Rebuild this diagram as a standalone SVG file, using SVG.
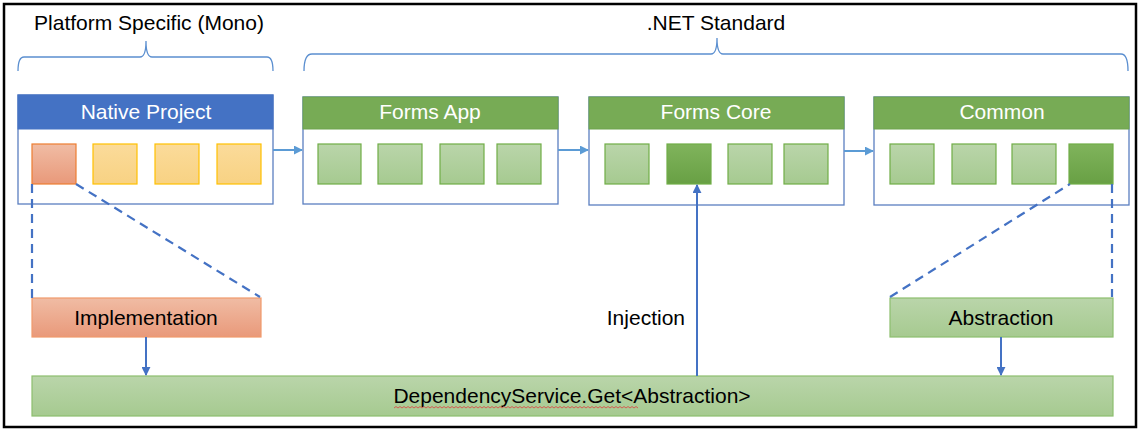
<svg xmlns="http://www.w3.org/2000/svg" width="1141" height="429" viewBox="0 0 1141 429">
<style>
text{font-family:"Liberation Sans","Open Sans",sans-serif;font-size:21px;fill:#000}
.hdr{fill:#fff;text-anchor:middle}
.ctr{text-anchor:middle}
.frame{fill:#fff;stroke:#5B7FC0;stroke-width:1.3}
.lg{fill:url(#gLight);stroke:#70AD47;stroke-width:1.2}
.dg{fill:url(#gDark);stroke:#70AD47;stroke-width:1.2}
.yl{fill:url(#gYellow);stroke:#FFC000;stroke-width:1.2}
.or{fill:url(#gOrange);stroke:#ED7D31;stroke-width:1.2}
.brace{fill:none;stroke:#5B8FD0;stroke-width:1.3}
.dash{fill:none;stroke:#4472C4;stroke-width:2.2;stroke-dasharray:9,6}
.conn{fill:none;stroke:#5B9BD5;stroke-width:2}
.conn2{fill:none;stroke:#4472C4;stroke-width:2}
</style>
<defs>
<linearGradient id="gLight" x1="0" y1="0" x2="0" y2="1"><stop offset="0" stop-color="#BAD5AA"/><stop offset="1" stop-color="#A6CA90"/></linearGradient>
<linearGradient id="gDark" x1="0" y1="0" x2="0" y2="1"><stop offset="0" stop-color="#80B45C"/><stop offset="1" stop-color="#68A044"/></linearGradient>
<linearGradient id="gYellow" x1="0" y1="0" x2="0" y2="1"><stop offset="0" stop-color="#FBDB9A"/><stop offset="1" stop-color="#F8D283"/></linearGradient>
<linearGradient id="gOrange" x1="0" y1="0" x2="0" y2="1"><stop offset="0" stop-color="#F0BCA4"/><stop offset="1" stop-color="#E9997A"/></linearGradient>
<marker id="ah" viewBox="0 0 10 10" refX="9" refY="5" markerWidth="4.5" markerHeight="4.5" orient="auto"><path d="M0,0L10,5L0,10z" fill="#5B9BD5"/></marker>
<marker id="ah2" viewBox="0 0 10 10" refX="9" refY="5" markerWidth="4.5" markerHeight="4.5" orient="auto"><path d="M0,0L10,5L0,10z" fill="#4472C4"/></marker>
</defs>
<rect x="0" y="0" width="1141" height="429" fill="#fff"/>
<rect x="4" y="4" width="1132" height="423" fill="none" stroke="#000" stroke-width="2.5"/>

<g id="label-platform">
<text x="149" y="30" class="ctr">Platform Specific (Mono)</text>
<path class="brace" d="M18,71 Q18,57 24,57 L140,57 Q146,57 146,41 Q146,57 152,57 L267,57 Q273,57 273,71"/>
</g>
<g id="label-netstandard">
<text x="716" y="30" class="ctr">.NET Standard</text>
<path class="brace" d="M304,71 Q304,54 312,54 L711,54 Q717,54 717,38 Q717,54 723,54 L1121,54 Q1128,54 1128,71"/>
</g>

<g id="native-project">
<rect class="frame" x="18" y="95" width="255" height="109"/>
<rect x="18" y="95" width="255" height="34" fill="#4472C4" stroke="#4472C4" stroke-width="1"/>
<text x="146" y="119" class="hdr">Native Project</text>
<rect class="or" x="32" y="144" width="44" height="40"/>
<rect class="yl" x="93" y="144" width="44" height="40"/>
<rect class="yl" x="155" y="144" width="44" height="40"/>
<rect class="yl" x="217" y="144" width="44" height="40"/>
</g>

<g id="forms-app">
<rect class="frame" x="303" y="97" width="255" height="107"/>
<rect x="303" y="97" width="255" height="32" fill="#77AB55" stroke="#6FA34E" stroke-width="1"/>
<text x="430" y="119" class="hdr">Forms App</text>
<rect class="lg" x="318" y="144" width="43" height="40"/>
<rect class="lg" x="378" y="144" width="44" height="40"/>
<rect class="lg" x="440" y="144" width="44" height="40"/>
<rect class="lg" x="497" y="144" width="44" height="40"/>
</g>

<g id="forms-core">
<rect class="frame" x="589" y="97" width="255" height="108"/>
<rect x="589" y="97" width="255" height="32" fill="#77AB55" stroke="#6FA34E" stroke-width="1"/>
<text x="716" y="119" class="hdr">Forms Core</text>
<rect class="lg" x="605" y="144" width="44" height="40"/>
<rect class="dg" x="667" y="144" width="44" height="40"/>
<rect class="lg" x="728" y="144" width="44" height="40"/>
<rect class="lg" x="784" y="144" width="44" height="40"/>
</g>

<g id="common">
<rect class="frame" x="874" y="97" width="255" height="108"/>
<rect x="874" y="97" width="255" height="32" fill="#77AB55" stroke="#6FA34E" stroke-width="1"/>
<text x="1002" y="119" class="hdr">Common</text>
<rect class="lg" x="890" y="144" width="44" height="40"/>
<rect class="lg" x="952" y="144" width="44" height="40"/>
<rect class="lg" x="1012" y="144" width="44" height="40"/>
<rect class="dg" x="1069" y="144" width="44" height="40"/>
</g>

<g id="implementation">
<rect x="32" y="298" width="229" height="39" fill="url(#gOrange)" stroke="#F19A6C" stroke-width="1.2"/>
<text x="146" y="325" class="ctr">Implementation</text>
</g>

<g id="abstraction">
<rect x="890" y="298" width="223" height="39" fill="url(#gLight)" stroke="#8DBF6E" stroke-width="1.2"/>
<text x="1001" y="325" class="ctr">Abstraction</text>
</g>

<g id="dependency-service">
<rect x="32" y="376" width="1081" height="40" fill="url(#gLight)" stroke="#8DBF6E" stroke-width="1.2"/>
<text x="572" y="403" class="ctr">DependencyService.Get&lt;Abstraction&gt;</text>
<path d="M394,408 l2,-1.5 l2,1.5 l2,-1.5 l2,1.5 l2,-1.5 l2,1.5 l2,-1.5 l2,1.5 l2,-1.5 l2,1.5 l2,-1.5 l2,1.5 l2,-1.5 l2,1.5 l2,-1.5 l2,1.5 l2,-1.5 l2,1.5 l2,-1.5 l2,1.5 l2,-1.5 l2,1.5 l2,-1.5 l2,1.5 l2,-1.5 l2,1.5 l2,-1.5 l2,1.5 l2,-1.5 l2,1.5 l2,-1.5 l2,1.5 l2,-1.5 l2,1.5 l2,-1.5 l2,1.5 l2,-1.5 l2,1.5 l2,-1.5 l2,1.5 l2,-1.5 l2,1.5 l2,-1.5 l2,1.5 l2,-1.5 l2,1.5 l2,-1.5 l2,1.5 l2,-1.5 l2,1.5 l2,-1.5 l2,1.5 l2,-1.5 l2,1.5 l2,-1.5 l2,1.5 l2,-1.5 l2,1.5 l2,-1.5 l2,1.5 l2,-1.5 l2,1.5 l2,-1.5 l2,1.5 l2,-1.5 l2,1.5 l2,-1.5 l2,1.5 l2,-1.5 l2,1.5 l2,-1.5 l2,1.5 l2,-1.5 l2,1.5 l2,-1.5 l2,1.5 l2,-1.5 l2,1.5 l2,-1.5 l2,1.5 l2,-1.5 l2,1.5 l2,-1.5 l2,1.5 l2,-1.5 l2,1.5 l2,-1.5 l2,1.5 l2,-1.5 l2,1.5 l2,-1.5 l2,1.5 l2,-1.5 l2,1.5 l2,-1.5 l2,1.5 l2,-1.5 l2,1.5 l2,-1.5 l2,1.5 l2,-1.5 l2,1.5 l2,-1.5 l2,1.5 l2,-1.5 l2,1.5 l2,-1.5 l2,1.5 l2,-1.5 l2,1.5 l2,-1.5 l2,1.5 l2,-1.5 l2,1.5 l2,-1.5 l2,1.5 l2,-1.5 l2,1.5 l2,-1.5 l2,1.5 l2,-1.5 l2,1.5" fill="none" stroke="#E04040" stroke-width="0.8"/>
</g>

<g id="connectors">
<line class="conn" x1="273" y1="150" x2="302" y2="150" marker-end="url(#ah)"/>
<line class="conn" x1="558" y1="150" x2="588" y2="150" marker-end="url(#ah)"/>
<line class="conn" x1="844" y1="151" x2="873" y2="151" marker-end="url(#ah)"/>
<line class="dash" x1="32" y1="184" x2="32" y2="298"/>
<line class="dash" x1="76" y1="184" x2="260" y2="297"/>
<line class="dash" x1="890" y1="297" x2="1070" y2="184"/>
<line class="dash" x1="1112" y1="184" x2="1112" y2="297"/>
<line class="conn2" x1="146" y1="337" x2="146" y2="375" marker-end="url(#ah2)"/>
<line class="conn2" x1="1001" y1="337" x2="1001" y2="375" marker-end="url(#ah2)"/>
<line class="conn2" x1="697" y1="376" x2="697" y2="185" marker-end="url(#ah2)"/>
<text x="685" y="325" style="text-anchor:end">Injection</text>
</g>
</svg>
